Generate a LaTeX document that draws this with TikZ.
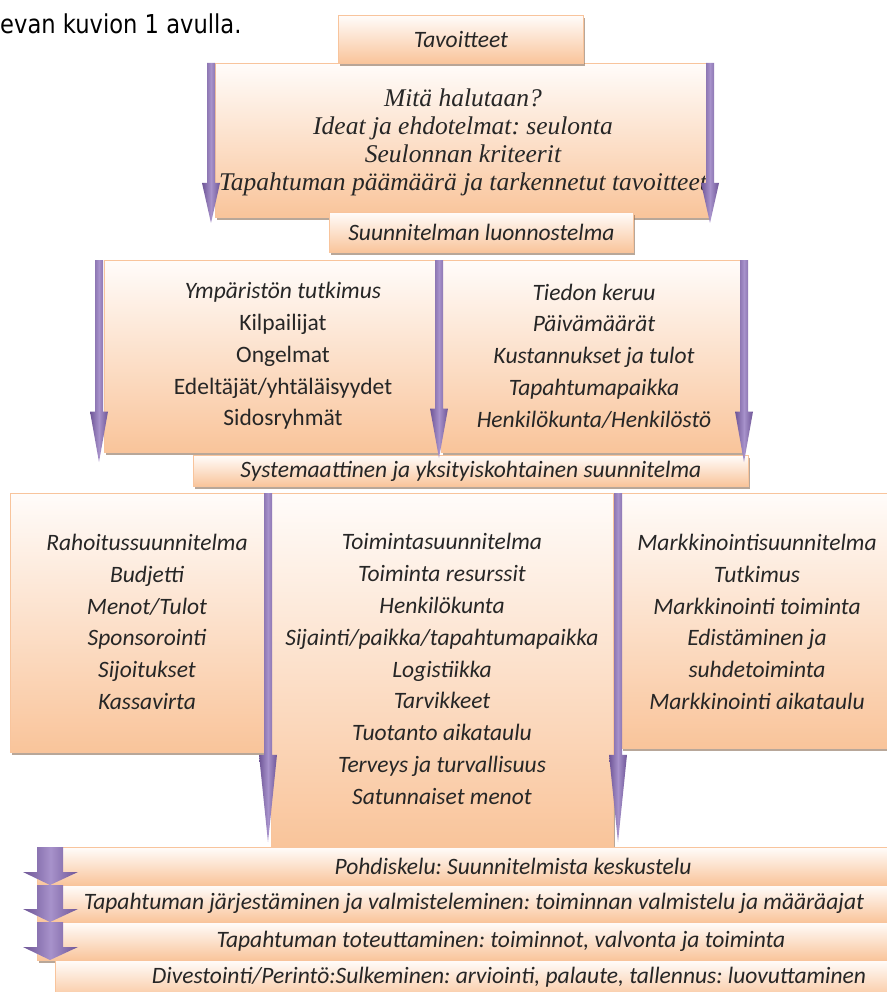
\documentclass[tikz,border=0pt]{standalone}
\usepackage{fontspec}
\usetikzlibrary{shadows}
\newfontfamily\carl{Carlito}
\newfontfamily\capser{Liberation Serif}
\newfontfamily\notefont[FakeStretch=0.87]{DejaVu Sans}
\definecolor{boxline}{HTML}{F8C49C}
\definecolor{boxtop}{HTML}{FFFCFA}
\definecolor{boxbot}{HTML}{F9C49A}
\definecolor{arrdark}{HTML}{6E5596}
\definecolor{arrlight}{HTML}{A792CB}
\definecolor{ink}{HTML}{262626}
\frenchspacing

\begin{document}
\begin{tikzpicture}[x=1pt,y=-1pt,
    peach/.style={draw=boxline,line width=0.8pt,top color=boxtop,bottom color=boxbot,inner sep=0,
        drop shadow={shadow xshift=2pt,shadow yshift=-3pt,fill=black!45!boxbot,opacity=0.6}},
    lbl/.style={text=ink,inner sep=0,align=center,font=\carl\itshape\boxfontsize}]
    \providecommand{\boxfontsize}{\fontsize{23.5}{31.8}\selectfont}
    \providecommand{\goalfontsize}{\fontsize{25.5}{28}\selectfont}
    \providecommand{\notefontsize}{\fontsize{26}{30}\selectfont}
    % x, top, tip
    \providecommand{\thinarrow}[3]{%
        \pgfmathsetmacro{\headlen}{0.25*(#3-#2)}
        \shade[left color=arrdark,right color=arrdark,middle color=arrlight] (#1-4,#2) -- (#1+4,#2) -- (#1+4,#3-\headlen) -- (#1+9,#3-\headlen) -- (#1,#3) -- (#1-9,#3-\headlen) -- (#1-4,#3-\headlen) -- cycle;}
    % top, tip
    \providecommand{\blockarrow}[2]{%
        \shade[left color=arrdark,right color=arrdark,middle color=arrlight] (37,#1) -- (63,#1) -- (63,#2-13) -- (78,#2-13) -- (50,#2) -- (23,#2-13) -- (37,#2-13) -- cycle;}
    \useasboundingbox (0,0) rectangle (886,992);

    \node[anchor=base west,inner sep=0,font=\notefont\notefontsize] (lead) at (0,34) {evan kuvion 1 avulla.};

    % goals
    \node[peach,anchor=north west,minimum width=493,minimum height=154] (goalbox) at (215,63) {};
    \node[peach,lbl,anchor=north west,minimum width=245,minimum height=48] (goals) at (338,15) {Tavoitteet};
    \node[lbl,font=\capser\itshape\goalfontsize] (goaltxt) at (463,142) {Mitä halutaan?\\Ideat ja ehdotelmat: seulonta\\Seulonnan kriteerit\\Tapahtuman päämäärä ja tarkennetut tavoitteet};
    \node[peach,lbl,anchor=north west,minimum width=304,minimum height=40] (draft) at (329,212) {Suunnitelman luonnostelma};

    % research
    \node[peach,anchor=north west,minimum width=333,minimum height=192] (envbox) at (104,260) {};
    \node[peach,anchor=north west,minimum width=300,minimum height=192] (infobox) at (441,260) {};
    \node[lbl] (envtxt) at (283,356) {Ympäristön tutkimus\\{\upshape Kilpailijat}\\{\upshape Ongelmat}\\{\upshape Edeltäjät/yhtäläisyydet}\\{\upshape Sidosryhmät}};
    \node[lbl] (infotxt) at (594,356) {Tiedon keruu\\Päivämäärät\\Kustannukset ja tulot\\Tapahtumapaikka\\Henkilökunta/Henkilöstö};
    \node[peach,lbl,anchor=north west,minimum width=555,minimum height=31] (detail) at (193,455) {Systemaattinen ja yksityiskohtainen suunnitelma};

    % plans
    \node[peach,anchor=north west,minimum width=254,minimum height=259] (finbox) at (10,493) {};
    \node[peach,anchor=north west,minimum width=342,minimum height=354] (opbox) at (271,493) {};
    \node[peach,anchor=north west,minimum width=280,minimum height=255] (mktbox) at (621,493) {};
    \node[lbl] (fintxt) at (147,622) {Rahoitussuunnitelma\\Budjetti\\Menot/Tulot\\Sponsorointi\\Sijoitukset\\Kassavirta};
    \node[lbl] (optxt) at (442,669) {Toimintasuunnitelma\\Toiminta resurssit\\Henkilökunta\\Sijainti/paikka/tapahtumapaikka\\Logistiikka\\Tarvikkeet\\Tuotanto aikataulu\\Terveys ja turvallisuus\\Satunnaiset menot};
    \node[lbl] (mkttxt) at (757,622) {Markkinointisuunnitelma\\Tutkimus\\Markkinointi toiminta\\Edistäminen ja\\suhdetoiminta\\Markkinointi aikataulu};

    % steps
    \node[peach,anchor=north west,minimum width=860,minimum height=38] (reflect) at (37,847) {};
    \node[peach,anchor=north west,minimum width=860,minimum height=37] (prepare) at (37,885) {};
    \node[peach,anchor=north west,minimum width=860,minimum height=38] (execute) at (37,922) {};
    \node[peach,anchor=north west,minimum width=840,minimum height=40] (close) at (55,960) {};
    \node[lbl] (reflecttxt) at (513,866) {Pohdiskelu: Suunnitelmista keskustelu};
    \node[lbl] (preparetxt) at (474,903) {Tapahtuman järjestäminen ja valmisteleminen: toiminnan valmistelu ja määräajat};
    \node[lbl] (executetxt) at (501,941) {Tapahtuman toteuttaminen: toiminnot, valvonta ja toiminta};
    \node[lbl] (closetxt) at (509,977) {Divestointi/Perintö:Sulkeminen: arviointi, palaute, tallennus: luovuttaminen};

    \thinarrow{211}{63}{223}
    \thinarrow{710}{63}{223}
    \thinarrow{99}{260}{462}
    \thinarrow{439}{260}{458}
    \thinarrow{744}{260}{462}
    \thinarrow{268}{493}{842}
    \thinarrow{618}{493}{842}
    \blockarrow{847}{885}
    \blockarrow{885}{922}
    \blockarrow{922}{960}
\end{tikzpicture}
\end{document}
